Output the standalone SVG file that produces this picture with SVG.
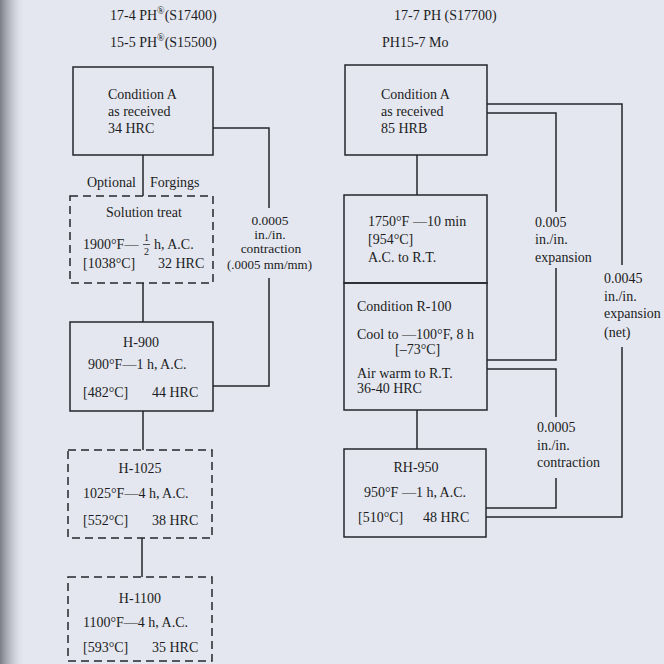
<svg xmlns="http://www.w3.org/2000/svg" width="664" height="664" viewBox="0 0 664 664">
<defs>
<linearGradient id="edge" x1="0" y1="0" x2="1" y2="0">
<stop offset="0" stop-color="#6e7079" stop-opacity="0.9"/>
<stop offset="0.5" stop-color="#a9abb4" stop-opacity="0.5"/>
<stop offset="1" stop-color="#e4e7f0" stop-opacity="0"/>
</linearGradient>
</defs>
<style>
.box{fill:none;stroke:#26262c;stroke-width:1.5}
.dash{fill:none;stroke:#26262c;stroke-width:1.5;stroke-dasharray:8 5}
.conn{fill:none;stroke:#26262c;stroke-width:1.5}
text{font-family:"Liberation Serif","Times New Roman",serif;font-size:14px;fill:#1c1c22}
.c{text-anchor:middle}
.sm{font-size:10px}
.lbl{font-size:13.5px}
</style>
<rect x="0" y="0" width="664" height="664" fill="#e4e7f0"/>
<rect x="0" y="0" width="26" height="664" fill="url(#edge)"/>

<g id="titles">
<text x="110" y="20">17-4 PH<tspan class="sm" dy="-6">®</tspan><tspan dy="6">(S17400)</tspan></text>
<text x="110" y="47">15-5 PH<tspan class="sm" dy="-6">®</tspan><tspan dy="6">(S15500)</tspan></text>
<text x="394" y="20">17-7 PH (S17700)</text>
<text x="382" y="47">PH15-7 Mo</text>
</g>

<g id="connectors">
<polyline class="conn" points="143,155 143,196"/>
<polyline class="conn" points="213,128 269,128 269,208"/>
<polyline class="conn" points="269,278 269,386 213,386"/>
<polyline class="conn" points="143,283 143,322"/>
<polyline class="conn" points="143,411 143,450"/>
<polyline class="conn" points="142,538 142,577"/>
<polyline class="conn" points="417,155 417,195"/>
<polyline class="conn" points="487,104 622,104 622,265"/>
<polyline class="conn" points="622,347 622,517 486,517"/>
<polyline class="conn" points="487,113 556,113 556,212"/>
<polyline class="conn" points="556,268 556,360 487,360"/>
<polyline class="conn" points="487,369 556,369 556,417"/>
<polyline class="conn" points="556,478 556,508 486,508"/>
<polyline class="conn" points="417,410 417,449"/>
</g>

<g id="labels">
<text x="87" y="187">Optional</text>
<text x="150" y="187">Forgings</text>
<text class="c lbl" x="270" y="225">0.0005</text>
<text class="c lbl" x="270" y="239">in./in.</text>
<text class="c lbl" x="271" y="253">contraction</text>
<text class="lbl" x="227" y="269" textLength="85" lengthAdjust="spacingAndGlyphs">(.0005 mm/mm)</text>
<text x="535" y="227">0.005</text>
<text x="535" y="244">in./in.</text>
<text x="535" y="262">expansion</text>
<text x="604" y="283">0.0045</text>
<text x="604" y="301">in./in.</text>
<text x="604" y="318">expansion</text>
<text x="604" y="337">(net)</text>
<text x="537" y="432">0.0005</text>
<text x="537" y="450">in./in.</text>
<text x="537" y="467">contraction</text>
</g>

<g id="condA-left">
<rect class="box" x="73" y="67" width="140" height="88"/>
<text x="108" y="99">Condition A</text>
<text x="108" y="116">as received</text>
<text x="108" y="133">34 HRC</text>
</g>

<g id="solution-treat">
<rect class="dash" x="70" y="196" width="143" height="87"/>
<text x="106" y="217">Solution treat</text>
<text x="83" y="249">1900°F—</text>
<text class="c sm" x="146.5" y="241">1</text>
<line x1="143" y1="244.5" x2="150" y2="244.5" stroke="#26262c" stroke-width="0.8"/>
<text class="c sm" x="146.5" y="255">2</text>
<text x="154" y="249">h, A.C.</text>
<text x="83" y="268">[1038°C]</text>
<text x="158" y="268">32 HRC</text>
</g>

<g id="h900">
<rect class="box" x="70" y="322" width="143" height="89"/>
<text class="c" x="141" y="347">H-900</text>
<text x="88" y="369">900°F—1 h, A.C.</text>
<text x="83" y="397">[482°C]</text>
<text x="152" y="397">44 HRC</text>
</g>

<g id="h1025">
<rect class="dash" x="68" y="450" width="144" height="88"/>
<text class="c" x="140" y="473">H-1025</text>
<text x="83" y="498">1025°F—4 h, A.C.</text>
<text x="83" y="525">[552°C]</text>
<text x="152" y="525">38 HRC</text>
</g>

<g id="h1100">
<rect class="dash" x="68" y="577" width="144" height="84"/>
<text class="c" x="140" y="603">H-1100</text>
<text x="83" y="627">1100°F—4 h, A.C.</text>
<text x="83" y="652">[593°C]</text>
<text x="152" y="652">35 HRC</text>
</g>

<g id="condA-right">
<rect class="box" x="345" y="65" width="142" height="90"/>
<text x="381" y="99">Condition A</text>
<text x="381" y="116">as received</text>
<text x="381" y="133">85 HRB</text>
</g>

<g id="t1750">
<rect class="box" x="344" y="195" width="143" height="88"/>
<text x="368" y="226">1750°F —10 min</text>
<text x="368" y="244">[954°C]</text>
<text x="368" y="262">A.C. to R.T.</text>
</g>

<g id="condR100">
<rect class="box" x="344" y="283" width="143" height="127"/>
<text x="357" y="311">Condition R-100</text>
<text x="357" y="339">Cool to —100°F, 8 h</text>
<text x="395" y="354">[–73°C]</text>
<text x="357" y="378">Air warm to R.T.</text>
<text x="357" y="393">36-40 HRC</text>
</g>

<g id="rh950">
<rect class="box" x="344" y="449" width="142" height="88"/>
<text class="c" x="416" y="472">RH-950</text>
<text x="364" y="497">950°F —1 h, A.C.</text>
<text x="358" y="522">[510°C]</text>
<text x="423" y="522">48 HRC</text>
</g>
</svg>
